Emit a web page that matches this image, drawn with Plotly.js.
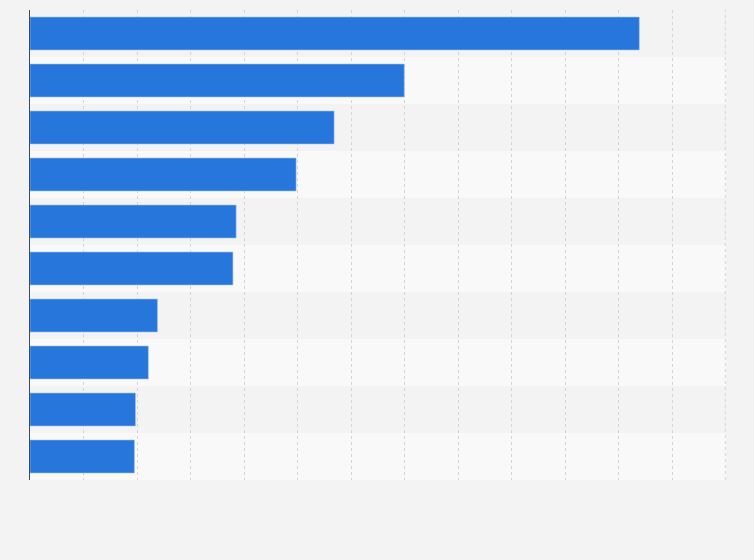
<!DOCTYPE html>
<html>
<head>
<meta charset="utf-8">
<script src="https://cdn.plot.ly/plotly-3.0.1.min.js"></script>
<style>html,body{margin:0;padding:0;background:#f3f3f3;}#chart{width:754px;height:560px;}</style>
</head>
<body>
<div id="chart"></div>
<script>
const categories = ["c1","c2","c3","c4","c5","c6","c7","c8","c9","c10"];
const values = [11.38, 6.99, 5.68, 4.97, 3.85, 3.79, 2.38, 2.21, 1.97, 1.95];
const xMax = 13;

const shapes = categories.map((c, i) => ({
  type: 'rect', xref: 'paper', yref: 'y', layer: 'below',
  x0: 0, x1: 1, y0: i - 0.5, y1: i + 0.5,
  fillcolor: i % 2 === 0 ? '#f3f3f3' : '#f9f9f9', line: {width: 0}
}));
shapes.push({type: 'line', xref: 'paper', yref: 'paper', layer: 'below',
  x0: 0.999, x1: 0.999, y0: 0, y1: 1, line: {color: '#d4d4d4', width: 1, dash: 'dot'}});

const trace = {
  type: 'bar', orientation: 'h',
  x: values, y: categories.map((c, i) => i),
  marker: {color: '#2776dc', line: {color: '#9bbcec', width: 0.6}},
  hoverinfo: 'none'
};

const layout = {
  width: 754, height: 560,
  paper_bgcolor: '#f3f3f3', plot_bgcolor: '#f3f3f3',
  margin: {l: 30, r: 28, t: 10, b: 80},
  bargap: 0.3,
  showlegend: false,
  shapes: shapes,
  xaxis: {range: [0, xMax], dtick: 1, showticklabels: false, showgrid: true,
          gridcolor: '#d4d4d4', griddash: 'dot', gridwidth: 1, zeroline: false,
          showline: false, ticks: ''},
  yaxis: {range: [9.5, -0.5], showticklabels: false, showgrid: false, zeroline: false,
          showline: true, linecolor: '#3a4a63', linewidth: 1, ticks: ''}
};

Plotly.newPlot('chart', [trace], layout, {displayModeBar: false, staticPlot: true});
</script>
</body>
</html>
